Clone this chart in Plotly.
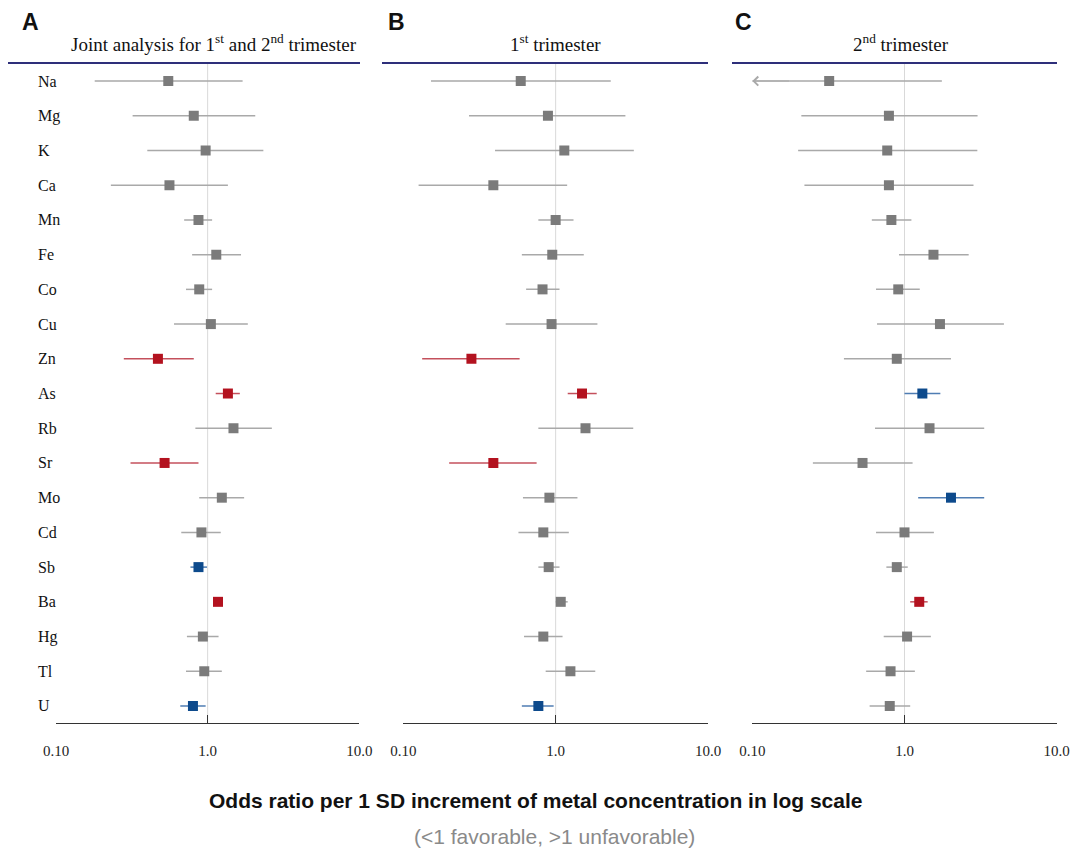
import math
import plotly.graph_objects as go

metals = ["Na", "Mg", "K", "Ca", "Mn", "Fe", "Co", "Cu", "Zn", "As",
          "Rb", "Sr", "Mo", "Cd", "Sb", "Ba", "Hg", "Tl", "U"]

# Panel A: joint analysis
a_or = [0.55, 0.81, 0.97, 0.56, 0.87, 1.14, 0.88, 1.05, 0.47, 1.36,
        1.48, 0.52, 1.24, 0.91, 0.87, 1.17, 0.93, 0.95, 0.80]
a_lo = [0.18, 0.32, 0.40, 0.23, 0.70, 0.79, 0.72, 0.60, 0.28, 1.13,
        0.83, 0.31, 0.88, 0.67, 0.77, 1.09, 0.73, 0.72, 0.66]
a_hi = [1.70, 2.06, 2.33, 1.36, 1.07, 1.66, 1.07, 1.84, 0.81, 1.63,
        2.65, 0.87, 1.74, 1.22, 0.99, 1.26, 1.18, 1.24, 0.97]
a_sig = ["n", "n", "n", "n", "n", "n", "n", "n", "r", "r",
         "n", "r", "n", "n", "b", "r", "n", "n", "b"]

# Panel B: 1st trimester
b_or = [0.59, 0.89, 1.14, 0.39, 1.00, 0.95, 0.82, 0.94, 0.28, 1.49,
        1.57, 0.39, 0.91, 0.83, 0.90, 1.08, 0.83, 1.25, 0.77]
b_lo = [0.152, 0.27, 0.40, 0.126, 0.77, 0.60, 0.64, 0.47, 0.133, 1.20,
        0.77, 0.20, 0.61, 0.57, 0.77, 1.00, 0.62, 0.86, 0.60]
b_hi = [2.30, 2.87, 3.26, 1.19, 1.31, 1.53, 1.06, 1.88, 0.58, 1.86,
        3.23, 0.75, 1.39, 1.22, 1.06, 1.20, 1.11, 1.82, 0.97]
b_sig = ["n", "n", "n", "n", "n", "n", "n", "n", "r", "r",
         "n", "r", "n", "n", "n", "n", "n", "n", "b"]

# Panel C: 2nd trimester
c_or = [0.32, 0.79, 0.77, 0.79, 0.82, 1.55, 0.91, 1.71, 0.89, 1.31,
        1.46, 0.53, 2.02, 1.00, 0.89, 1.25, 1.04, 0.81, 0.80]
c_lo = [0.08, 0.21, 0.20, 0.22, 0.61, 0.92, 0.65, 0.66, 0.40, 1.00,
        0.64, 0.25, 1.23, 0.65, 0.76, 1.09, 0.73, 0.56, 0.59]
c_hi = [1.76, 3.02, 3.01, 2.84, 1.11, 2.64, 1.26, 4.50, 2.02, 1.72,
        3.34, 1.13, 3.34, 1.56, 1.05, 1.42, 1.49, 1.17, 1.09]
c_sig = ["n", "n", "n", "n", "n", "n", "n", "n", "n", "b",
         "n", "n", "b", "n", "n", "r", "n", "n", "n"]

panel_letters = ["A", "B", "C"]
panel_titles = ["Joint analysis for 1<sup>st</sup> and 2<sup>nd</sup> trimester",
                "1<sup>st</sup> trimester", "2<sup>nd</sup> trimester"]
tick_vals = [0.1, 1.0, 10.0]
tick_text = ["0.10", "1.0", "10.0"]

W, H = 1072, 851
def px(v): return v / W
def py(v): return 1 - v / H

line_col = {"n": "#a9a9a9", "r": "#c4505c", "b": "#4f7db3"}
mark_col = {"n": "#7b7b7b", "r": "#b3121f", "b": "#0d4a8c"}

panels = [
    dict(orr=a_or, lo=a_lo, hi=a_hi, sig=a_sig, dom=(56, 359.3), hdr=(8, 360), tcx=214, lx=20),
    dict(orr=b_or, lo=b_lo, hi=b_hi, sig=b_sig, dom=(403.3, 708), hdr=(382, 708), tcx=555, lx=386),
    dict(orr=c_or, lo=c_lo, hi=c_hi, sig=c_sig, dom=(752.3, 1056.7), hdr=(732, 1057), tcx=901, lx=733),
]

XMIN, XMAX = 0.1, 10.0
n = len(metals)
yr = [n - 1 + 0.49, -0.52]

fig = go.Figure()
annotations = []
shapes = []
serif = "Liberation Serif, Times New Roman, serif"
sans = "Liberation Sans, Arial, sans-serif"

for k, p in enumerate(panels):
    sfx = "" if k == 0 else str(k + 1)
    xa, ya = "x" + sfx, "y" + sfx
    # reference line at OR = 1
    fig.add_trace(go.Scatter(x=[1, 1], y=yr, mode="lines",
                             line=dict(color="#d9d9d9", width=1),
                             xaxis=xa, yaxis=ya, showlegend=False, hoverinfo="skip"))
    for s in ["n", "r", "b"]:
        xs, ys = [], []
        for i in range(n):
            if p["sig"][i] != s:
                continue
            lo = max(p["lo"][i], XMIN)
            hi = min(p["hi"][i], XMAX)
            xs += [lo, hi, None]
            ys += [i, i, None]
        if xs:
            fig.add_trace(go.Scatter(x=xs, y=ys, mode="lines",
                                     line=dict(color=line_col[s], width=1.5),
                                     xaxis=xa, yaxis=ya, showlegend=False, hoverinfo="skip"))
        mx = [p["orr"][i] for i in range(n) if p["sig"][i] == s]
        my = [i for i in range(n) if p["sig"][i] == s]
        if mx:
            fig.add_trace(go.Scatter(x=mx, y=my, mode="markers",
                                     marker=dict(symbol="square", size=10, color=mark_col[s],
                                                 line=dict(width=0)),
                                     xaxis=xa, yaxis=ya, showlegend=False))
    # arrows for truncated intervals
    for i in range(n):
        if p["lo"][i] < XMIN:
            annotations.append(dict(x=math.log10(XMIN), y=i, ax=math.log10(XMIN) + 0.25, ay=i,
                                    xref=xa, yref=ya, axref=xa, ayref=ya, text="",
                                    showarrow=True, arrowhead=4, arrowsize=1.6,
                                    arrowwidth=1.1, arrowcolor="#a9a9a9"))
    d0, d1 = p["dom"]
    fig.update_layout(**{
        ("xaxis" + sfx): dict(domain=[px(d0), px(d1)], type="log",
                              range=[math.log10(XMIN), math.log10(XMAX)],
                              tickvals=tick_vals, ticktext=tick_text,
                              ticks="inside", ticklen=8, tickcolor="#333",
                              ticklabelstandoff=14,
                              showline=True, linecolor="#333", linewidth=1.2,
                              showgrid=False, zeroline=False, automargin=False,
                              tickfont=dict(family=serif, size=15, color="#222"),
                              anchor=ya),
        ("yaxis" + sfx): dict(domain=[py(723), py(63)], range=yr,
                              showticklabels=False, showgrid=False, zeroline=False,
                              showline=False, ticks="", anchor=xa, automargin=False),
    })
    # header line
    h0, h1 = p["hdr"]
    shapes.append(dict(type="line", xref="paper", yref="paper",
                       x0=px(h0), x1=px(h1), y0=py(63), y1=py(63),
                       line=dict(color="#2e2f7a", width=2)))
    annotations.append(dict(x=px(p["tcx"]), y=py(43), xref="paper", yref="paper",
                            text=panel_titles[k], showarrow=False,
                            xanchor="center", yanchor="middle",
                            font=dict(family=serif, size=19, color="#111")))
    annotations.append(dict(x=px(p["lx"]), y=py(22), xref="paper", yref="paper",
                            text="<b>" + panel_letters[k] + "</b>", showarrow=False,
                            xanchor="left", yanchor="middle",
                            font=dict(family=sans, size=23, color="#111")))

# row labels
for i, m in enumerate(metals):
    annotations.append(dict(x=px(36), y=i, xref="paper", yref="y", text=m,
                            showarrow=False, xanchor="left", yanchor="middle",
                            font=dict(family=serif, size=16, color="#111")))

annotations.append(dict(x=px(535), y=py(800), xref="paper", yref="paper",
                        text="<b>Odds ratio per 1 SD increment of metal concentration in log scale</b>",
                        showarrow=False, xanchor="center", yanchor="middle",
                        font=dict(family=sans, size=21, color="#111")))
annotations.append(dict(x=px(554), y=py(836), xref="paper", yref="paper",
                        text="(&lt;1 favorable, &gt;1 unfavorable)",
                        showarrow=False, xanchor="center", yanchor="middle",
                        font=dict(family=sans, size=21, color="#8a8a8a")))

fig.update_layout(width=W, height=H,
                  margin=dict(l=0, r=0, t=0, b=0, pad=0, autoexpand=False),
                  plot_bgcolor="white", paper_bgcolor="white", autosize=False,
                  annotations=annotations, shapes=shapes, showlegend=False)

post = ("document.body.style.margin='0';document.body.style.padding='0';"
        "document.body.style.overflow='hidden';"
        "document.documentElement.style.overflow='hidden';"
        "var gd=document.getElementById('{plot_id}');"
        "Plotly.relayout(gd,{width:1072,height:851});")

fig.write_html("out.html", config={"responsive": False, "displayModeBar": False},
               post_script=post)
